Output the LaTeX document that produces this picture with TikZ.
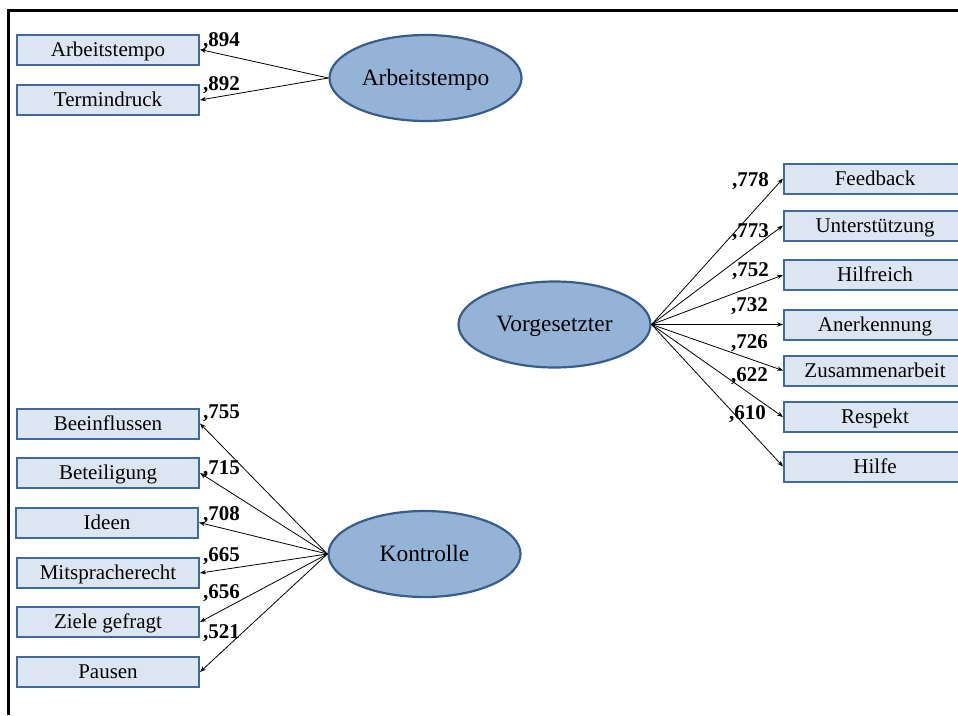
\documentclass[tikz,border=0pt]{standalone}
\usepackage{fontspec}
\setmainfont{Liberation Serif}
\usetikzlibrary{arrows.meta,shapes.geometric}

\definecolor{boxfill}{HTML}{DCE6F2}
\definecolor{boxline}{HTML}{41699C}
\definecolor{ellfill}{HTML}{95B3D7}
\definecolor{ellline}{HTML}{385D8A}

\begin{document}
\begin{tikzpicture}[x=1pt,y=-1pt,
  item/.style={draw=boxline, line width=2pt, fill=boxfill,
    minimum width=182pt, minimum height=30pt, inner sep=0pt,
    font=\fontsize{21}{25}\selectfont, text height=15pt, text depth=2pt},
  factor/.style={ellipse, draw=ellline, line width=2.2pt, fill=ellfill,
    inner sep=0pt, minimum width=192pt, minimum height=86pt,
    font=\fontsize{23.4}{28}\selectfont, text height=16pt, text depth=2pt},
  load/.style={-{Stealth[length=6pt,width=4.5pt]}, line width=0.8pt},
  coef/.style={anchor=base west, inner sep=0pt,
    font=\fontsize{21}{25}\selectfont\bfseries},
  frameline/.style={line width=2.5pt}
]
\useasboundingbox (0,0) rectangle (958,715);
\clip (0,0) rectangle (958,715);

% outer frame (top and left edges)
\draw[frameline] (8.7,715) -- (8.7,10.7) -- (958,10.7);

% --- factor: Arbeitstempo ---
\node[factor] (fA) at (425.5,78) {Arbeitstempo};
\node[item] (a1) at (108,49.5) {Arbeitstempo};
\node[item] (a2) at (108,100) {Termindruck};
\draw[load] (fA.west) -- (a1.east);
\draw[load] (fA.west) -- (a2.east);
\node[coef] at (203,46) {,894};
\node[coef] at (203,90) {,892};

% --- factor: Vorgesetzter ---
\node[factor] (fV) at (554.5,324.5) {Vorgesetzter};
\node[item] (v1) at (875,178.5) {Feedback};
\node[item] (v2) at (875,225.5) {Unterstützung};
\node[item] (v3) at (875,275) {Hilfreich};
\node[item] (v4) at (875,324.5) {Anerkennung};
\node[item] (v5) at (875,370.5) {Zusammenarbeit};
\node[item] (v6) at (875,417) {Respekt};
\node[item] (v7) at (875,466.5) {Hilfe};
\foreach \i in {1,...,7}{\draw[load] (fV.east) -- (v\i.west);}
\node[coef] at (732,186) {,778};
\node[coef] at (732,237) {,773};
\node[coef] at (732,276) {,752};
\node[coef] at (731,311) {,732};
\node[coef] at (731,348) {,726};
\node[coef] at (731,381) {,622};
\node[coef] at (729,419) {,610};

% --- factor: Kontrolle ---
\node[factor] (fK) at (424.5,554) {Kontrolle};
\node[item] (k1) at (108,423.5) {Beeinflussen};
\node[item] (k2) at (108,473) {Beteiligung};
\node[item] (k3) at (107,522.5) {Ideen};
\node[item] (k4) at (108,573) {Mitspracherecht};
\node[item] (k5) at (108,622) {Ziele gefragt};
\node[item] (k6) at (108,672) {Pausen};
\foreach \i in {1,...,6}{\draw[load] (fK.west) -- (k\i.east);}
\node[coef] at (203,418) {,755};
\node[coef] at (203,474) {,715};
\node[coef] at (203,520) {,708};
\node[coef] at (203,561) {,665};
\node[coef] at (203,598) {,656};
\node[coef] at (203,638) {,521};
\end{tikzpicture}
\end{document}
